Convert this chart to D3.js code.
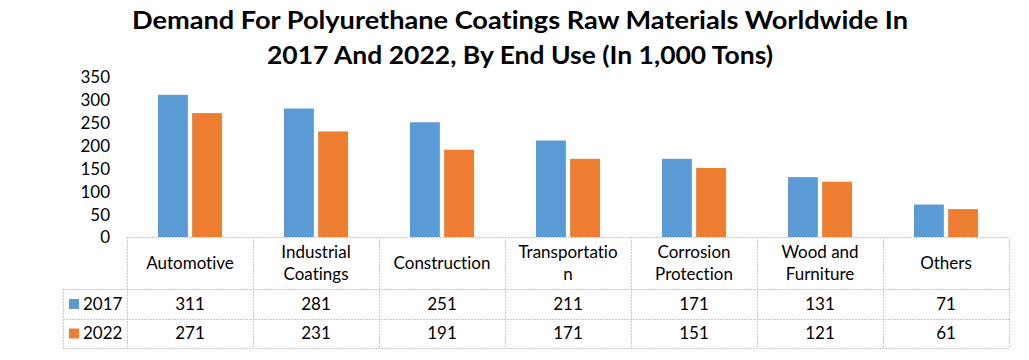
<!DOCTYPE html>
<html><head><meta charset="utf-8">
<script src="https://cdn.jsdelivr.net/npm/d3@7"></script>
<style>body{margin:0;background:#fff;} svg{display:block;} text{font-variant-ligatures:none;font-feature-settings:"liga" 0;}</style>
</head><body>
<script>
const categories = ["Automotive","Industrial Coatings","Construction","Transportation","Corrosion Protection","Wood and Furniture","Others"];
const categoryLines = [["Automotive"],["Industrial","Coatings"],["Construction"],["Transportatio","n"],["Corrosion","Protection"],["Wood and","Furniture"],["Others"]];
const seriesNames = ["2017","2022"];
const values2017 = [311,281,251,211,171,131,71];
const values2022 = [271,231,191,171,151,121,61];
const yTicks = [0,50,100,150,200,250,300,350];
const colors = ["#5B9BD5","#ED7D31"];
const titleLines = ["Demand For Polyurethane Coatings Raw Materials Worldwide In","2017 And 2022, By End Use (In 1,000 Tons)"];

const W=1029,H=360;
const svg=d3.select("body").append("svg").attr("width",W).attr("height",H);
const font="Lato, 'Open Sans', sans-serif";

const x0=d3.scaleBand().domain(categories).range([127,1009]);
const x1=d3.scaleBand().domain(seriesNames).range([x0.bandwidth()/2-32,x0.bandwidth()/2+32]).paddingInner(8/64);
const y=d3.scaleLinear().domain([0,350]).range([237,77]);

// title
svg.append("g").selectAll("text").data(titleLines).join("text")
  .attr("x",520).attr("y",(d,i)=>29+i*35).attr("text-anchor","middle")
  .attr("font-family",font).attr("font-weight","bold").attr("font-size",25).attr("fill","#000")
  .attr("textLength",(d,i)=>i===0?776:506).attr("lengthAdjust","spacingAndGlyphs")
  .text(d=>d);

// y axis
const yAxis=d3.axisLeft(y).tickValues(yTicks).tickSize(0).tickPadding(0);
const ga=svg.append("g").attr("transform","translate(110,0)").call(yAxis);
ga.select(".domain").remove();
ga.selectAll("text").attr("font-family",font).attr("font-size",17).attr("fill","#000").attr("dy","0.35em");

// bars
const series=[values2017,values2022];
const gb=svg.append("g");
categories.forEach((c,ci)=>{
  seriesNames.forEach((s,si)=>{
    const v=series[si][ci];
    gb.append("rect").attr("x",x0(c)+x1(s)).attr("width",x1.bandwidth())
      .attr("y",y(v)).attr("height",y(0)-y(v)).attr("fill",colors[si]);
  });
});

// table
const rowTop=237,r1=289,r2=319,r3=348,legL=63,tL=127,tR=1009;
const grid=svg.append("g").attr("stroke","#c8c8c8").attr("stroke-width",1).attr("stroke-dasharray","2,1").attr("fill","none");
[[tL,rowTop+0.5,tR,rowTop+0.5],[legL,r1+0.5,tR,r1+0.5],[legL,r2+0.5,tR,r2+0.5],[legL,r3+0.5,tR,r3+0.5],
 [legL+0.5,r1,legL+0.5,r3]].forEach(l=>grid.append("line").attr("x1",l[0]).attr("y1",l[1]).attr("x2",l[2]).attr("y2",l[3]));
categories.forEach(c=>grid.append("line").attr("x1",x0(c)+0.5).attr("x2",x0(c)+0.5).attr("y1",rowTop).attr("y2",r3));
grid.append("line").attr("x1",tR+0.5).attr("x2",tR+0.5).attr("y1",rowTop).attr("y2",r3);

const gt=svg.append("g").attr("font-family",font).attr("font-size",17).attr("fill","#000").attr("text-anchor","middle");
categories.forEach((c,ci)=>{
  const lines=categoryLines[ci];
  const cx=x0(c)+x0.bandwidth()/2;
  const cy=(rowTop+r1)/2;
  lines.forEach((t,li)=>{
    gt.append("text").attr("x",cx).attr("y",cy+(li-(lines.length-1)/2)*22).attr("dy","0.35em").text(t);
  });
  gt.append("text").attr("x",cx).attr("y",(r1+r2)/2).attr("dy","0.35em").text(values2017[ci]);
  gt.append("text").attr("x",cx).attr("y",(r2+r3)/2).attr("dy","0.35em").text(values2022[ci]);
});
seriesNames.forEach((s,si)=>{
  const cy=si===0?(r1+r2)/2:(r2+r3)/2;
  svg.append("rect").attr("x",69).attr("y",cy-5).attr("width",10).attr("height",10).attr("fill",colors[si]);
  svg.append("text").attr("x",83).attr("y",cy).attr("dy","0.35em").attr("font-family",font).attr("font-size",17).attr("fill","#000").text(s);
});
</script>
</body></html>
